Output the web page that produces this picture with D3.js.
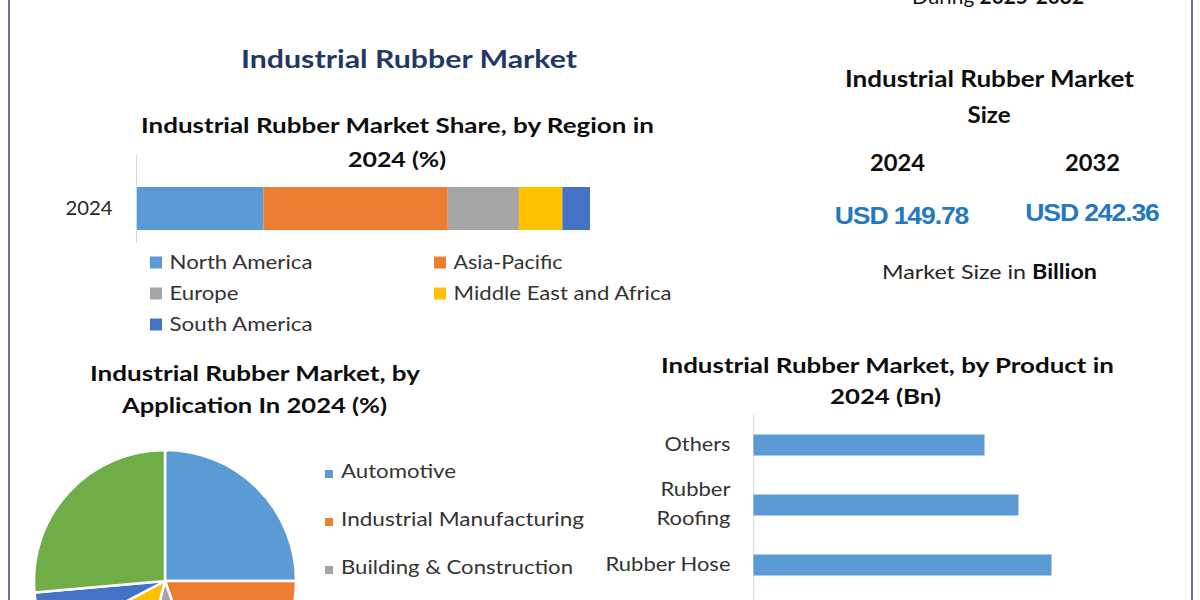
<!DOCTYPE html>
<html>
<head>
<meta charset="utf-8">
<script src="https://cdn.jsdelivr.net/npm/d3@7"></script>
<style>
  html, body { margin: 0; padding: 0; background: #ffffff; }
  svg { display: block; }
</style>
</head>
<body>
<svg id="chart" width="1200" height="600"></svg>
<script>
// ---------------- DATA ----------------
const regionYear = ["2024"];
const regions = ["North America", "Asia-Pacific", "Europe", "Middle East and Africa", "South America"];
const regionShare = [27.9, 40.7, 15.7, 9.6, 6.1];
const regionColors = ["#5b9bd5", "#ed7d31", "#a5a5a5", "#ffc000", "#4472c4"];

const applications = ["Automotive", "Industrial Manufacturing", "Building & Construction", "Other 1", "Other 2", "Other 3"];
const applicationShare = [25.0, 19.6, 9.5, 13.2, 6.3, 26.4];
const applicationColors = ["#5b9bd5", "#ed7d31", "#a5a5a5", "#ffc000", "#4472c4", "#70ad47"];
const visibleAppLegend = 3; // only the first three legend rows fall inside the picture

const products = ["Rubber Hose", "Rubber Roofing", "Others"];
const productValue = [29.8, 26.5, 23.1];

const sizeYears = ["2024", "2032"];
const sizeValues = [149.78, 242.36];

// ---------------- HELPERS ----------------
const svg = d3.select("#chart");
const FONT = "Lato, 'Open Sans', 'Noto Sans', sans-serif";

function label(x, y, str, o) {
  const t = svg.append("text")
    .attr("x", x).attr("y", y)
    .attr("font-family", o.family || FONT)
    .attr("font-size", o.size)
    .attr("font-weight", o.weight || "normal")
    .attr("fill", o.fill || "#262626")
    .attr("text-anchor", o.anchor || "start")
    .text(str);
  if (o.letter) t.attr("letter-spacing", o.letter);
  if (o.width) t.attr("textLength", o.width).attr("lengthAdjust", "spacingAndGlyphs");
  return t;
}

// ---------------- FRAME ----------------
svg.append("line").attr("x1", 9).attr("x2", 9).attr("y1", 0).attr("y2", 600)
  .attr("stroke", "#44546a").attr("stroke-width", 1.6);
svg.append("line").attr("x1", 1192).attr("x2", 1192).attr("y1", 0).attr("y2", 600)
  .attr("stroke", "#44546a").attr("stroke-width", 1.6);

// Cut-off caption at the very top right (only its lower edge shows, as in the reference)
(function () {
  const t = svg.append("text").attr("x", 998).attr("y", 4)
    .attr("font-family", FONT).attr("font-size", 20).attr("fill", "#111")
    .attr("text-anchor", "middle")
    .attr("textLength", 172).attr("lengthAdjust", "spacingAndGlyphs");
  t.append("tspan").text("During ");
  t.append("tspan").attr("font-weight", "bold").text("2025-" + sizeYears[1]);
})();

// ---------------- MAIN TITLE ----------------
label(409, 68, "Industrial Rubber Market", { size: 25, weight: "bold", fill: "#1f3864", anchor: "middle", width: 336 });

// ---------------- REGION STACKED BAR ----------------
label(397.5, 133, "Industrial Rubber Market Share, by Region in", { size: 21.5, weight: "bold", fill: "#0d0d0d", anchor: "middle", width: 513 });
label(397, 167, "2024 (%)", { size: 21.5, weight: "bold", fill: "#0d0d0d", anchor: "middle", width: 98 });

const xR = d3.scaleLinear().domain([0, 100]).range([137, 590]);
const yR = d3.scaleBand().domain(regionYear).range([187, 230]).padding(0);

const regionRow = [Object.fromEntries(regions.map((r, i) => [r, regionShare[i]]))];
regionRow[0].year = regionYear[0];
const stackR = d3.stack().keys(regions)(regionRow);

svg.append("line").attr("x1", 136.5).attr("x2", 136.5).attr("y1", 155).attr("y2", 243)
  .attr("stroke", "#d9d9d9").attr("stroke-width", 1);

svg.append("g").selectAll("rect").data(stackR).join("rect")
  .attr("x", d => xR(d[0][0]))
  .attr("width", d => xR(d[0][1]) - xR(d[0][0]))
  .attr("y", d => yR(d[0].data.year))
  .attr("height", yR.bandwidth())
  .attr("fill", (d, i) => regionColors[i]);

const axR = svg.append("g").attr("transform", "translate(136.5,0)")
  .call(d3.axisLeft(yR).tickSize(0).tickPadding(24));
axR.select(".domain").remove();
axR.selectAll("text")
  .attr("font-family", FONT).attr("font-size", 20).attr("fill", "#262626")
  .attr("dy", "0.33em")
  .attr("textLength", 47).attr("lengthAdjust", "spacingAndGlyphs");

// legend
const regLegendPos = [[150, 269], [434, 269], [150, 300], [434, 300], [150, 331]];
const regLegendW = [143, 109, 69, 218, 143];
regions.forEach((r, i) => {
  const [lx, ly] = regLegendPos[i];
  svg.append("rect").attr("x", lx).attr("y", ly - 12.5).attr("width", 12).attr("height", 12)
    .attr("fill", regionColors[i]);
  label(lx + 19.5, ly, r, { size: 20, fill: "#333333", width: regLegendW[i] });
});

// ---------------- MARKET SIZE PANEL ----------------
label(989.5, 87, "Industrial Rubber Market", { size: 22.5, weight: "bold", fill: "#0d0d0d", anchor: "middle", width: 289 });
label(989, 123, "Size", { size: 22.5, weight: "bold", fill: "#0d0d0d", anchor: "middle", width: 43 });

const sizeCx = [897.5, 1092.5];
const usdCx = [901.5, 1092];
const usdBase = [224, 221];
sizeYears.forEach((yr, i) => {
  label(sizeCx[i], 170.5, yr, { size: 22, weight: "bold", fill: "#0d0d0d", anchor: "middle", width: 55 });
  label(usdCx[i], usdBase[i], "USD " + sizeValues[i].toFixed(2),
    { size: 24, weight: "bold", fill: "#2478c0", anchor: "middle", width: 133.5,
      family: "'Liberation Sans', Arial, sans-serif", letter: -1 });
});

(function () {
  const t = svg.append("text").attr("x", 989.5).attr("y", 279)
    .attr("font-family", FONT).attr("font-size", 20).attr("fill", "#262626")
    .attr("text-anchor", "middle")
    .attr("textLength", 215).attr("lengthAdjust", "spacingAndGlyphs");
  t.append("tspan").text("Market Size in ");
  t.append("tspan").attr("font-weight", "bold").attr("fill", "#0d0d0d").text("Billion");
})();

// ---------------- APPLICATION PIE ----------------
label(255, 381, "Industrial Rubber Market, by", { size: 21.5, weight: "bold", fill: "#0d0d0d", anchor: "middle", width: 330 });
label(254.5, 413, "Application In 2024 (%)", { size: 21.5, weight: "bold", fill: "#0d0d0d", anchor: "middle", width: 265 });

const pie = d3.pie().sort(null).value(d => d)(applicationShare);
const arc = d3.arc().innerRadius(0).outerRadius(131);
svg.append("g").attr("transform", "translate(165,581)")
  .selectAll("path").data(pie).join("path")
  .attr("d", arc)
  .attr("fill", (d, i) => applicationColors[i])
  .attr("stroke", "#ffffff").attr("stroke-width", 2.5).attr("stroke-linejoin", "round");

const appLegendW = [115, 243, 232];
applications.slice(0, visibleAppLegend).forEach((a, i) => {
  const by = 478 + i * 48;
  svg.append("rect").attr("x", 325).attr("y", by - 8).attr("width", 8).attr("height", 8)
    .attr("fill", applicationColors[i]);
  label(341, by, a, { size: 20, fill: "#333333", width: appLegendW[i] });
});

// ---------------- PRODUCT BAR CHART ----------------
label(887.5, 373, "Industrial Rubber Market, by Product in", { size: 21.5, weight: "bold", fill: "#0d0d0d", anchor: "middle", width: 453 });
label(885.5, 404, "2024 (Bn)", { size: 21.5, weight: "bold", fill: "#0d0d0d", anchor: "middle", width: 111 });

const xP = d3.scaleLinear().domain([0, 10]).range([753.5, 853.5]);
const yP = d3.scaleBand().domain(products.slice().reverse()).range([415, 595])
  .paddingInner(0.65).paddingOuter(0.325);

svg.append("line").attr("x1", 753.5).attr("x2", 753.5).attr("y1", 415).attr("y2", 600)
  .attr("stroke", "#d9d9d9").attr("stroke-width", 1);

svg.append("g").selectAll("rect").data(products).join("rect")
  .attr("x", xP(0))
  .attr("y", d => yP(d))
  .attr("width", (d, i) => xP(productValue[i]) - xP(0))
  .attr("height", yP.bandwidth())
  .attr("fill", "#5b9bd5");

const axP = svg.append("g").attr("transform", "translate(753.5,0)")
  .call(d3.axisLeft(yP).tickSize(0).tickPadding(23).tickFormat(() => ""));
axP.select(".domain").remove();
const prodLabelW = { "Others": [66], "Rubber Hose": [125], "Rubber Roofing": [70, 74] };
axP.selectAll(".tick text").each(function (d) {
  const t = d3.select(this)
    .attr("font-family", FONT).attr("font-size", 20).attr("fill", "#333333");
  const words = d === "Rubber Roofing" ? ["Rubber", "Roofing"] : [d];
  const offs = words.length === 2 ? [-9.5, 19.5] : [5.5];
  t.attr("dy", null).attr("y", 0);
  words.forEach((w, k) => {
    t.append("tspan").attr("x", -23).attr("y", offs[k]).text(w)
      .attr("textLength", prodLabelW[d][k]).attr("lengthAdjust", "spacingAndGlyphs");
  });
});
</script>
</body>
</html>
